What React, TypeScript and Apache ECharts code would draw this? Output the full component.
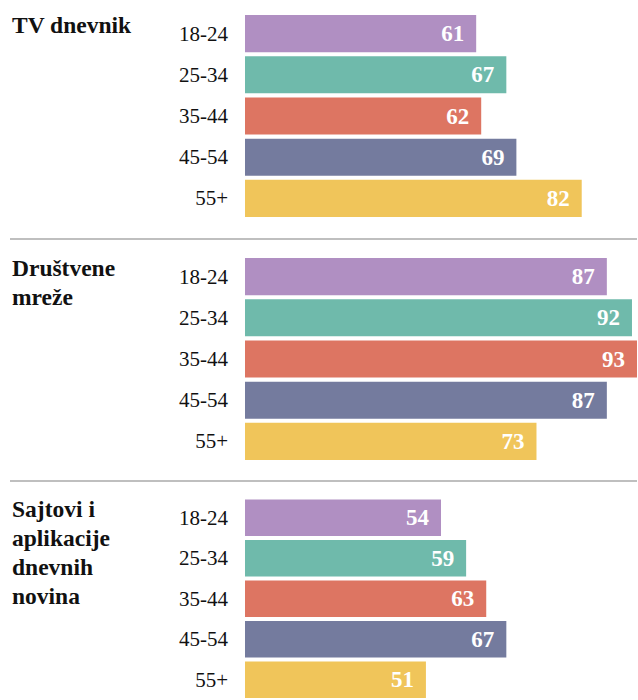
import React, { useEffect, useRef } from "react";
import * as echarts from "echarts";

const ageGroups = ["18-24", "25-34", "35-44", "45-54", "55+"];
const groupTitles = ["TV dnevnik", "Društvene\nmreže", "Sajtovi i\naplikacije\ndnevnih\nnovina"];
const tvValues = [61, 67, 62, 69, 82];
const socialValues = [87, 92, 93, 87, 73];
const newsSiteValues = [54, 59, 63, 67, 51];
const barColors = ["#b08fc2", "#6fbaab", "#dd7562", "#747b9e", "#f0c55a"];

const FONT = '"Liberation Serif", "DejaVu Serif", serif';

export default function App() {
  const ref = useRef<HTMLDivElement>(null);
  useEffect(() => {
    document.body.style.margin = "0";
    if (!ref.current) return;
    const chart = echarts.init(ref.current, null, { renderer: "svg" });
    const allValues = [tvValues, socialValues, newsSiteValues];
    const gridTops = [13, 256, 497.5];
    const gridHeights = [206, 206, 208];
    const grids = gridTops.map((t, i) => ({ left: 245, right: 1, top: t, height: gridHeights[i] }));
    const xAxes = gridTops.map((_, i) => ({
      type: "value",
      gridIndex: i,
      min: 15,
      max: 93,
      show: false,
    }));
    const yAxes = gridTops.map((_, i) => ({
      type: "category",
      gridIndex: i,
      data: ageGroups,
      inverse: true,
      axisLine: { show: false },
      axisTick: { show: false },
      axisLabel: {
        margin: 17,
        color: "#111",
        fontFamily: FONT,
        fontSize: 21,
      },
    }));
    const series = allValues.map((vals, i) => ({
      type: "bar",
      xAxisIndex: i,
      yAxisIndex: i,
      barCategoryGap: "10%",
      data: vals.map((v, j) => ({ value: v, itemStyle: { color: barColors[j] } })),
      label: {
        show: true,
        position: "insideRight",
        distance: 12,
        color: "#fff",
        fontFamily: FONT,
        fontWeight: "bold",
        fontSize: 23,
      },
    }));
    const graphic: any[] = groupTitles.map((t, i) => ({
      type: "text",
      left: 12,
      top: gridTops[i] - 3,
      style: {
        text: t,
        font: `bold 23.5px ${FONT}`,
        fill: "#111",
        lineHeight: 29,
      },
    }));
    [239, 481].forEach((y) => {
      graphic.push({
        type: "line",
        shape: { x1: 10, y1: y, x2: 637, y2: y },
        style: { stroke: "#aaaaaa", lineWidth: 1.5 },
      });
    });
    chart.setOption({
      animation: false,
      grid: grids,
      xAxis: xAxes,
      yAxis: yAxes,
      series,
      graphic,
    });
    return () => chart.dispose();
  }, []);
  return <div ref={ref} style={{ width: 638, height: 700 }} />;
}
